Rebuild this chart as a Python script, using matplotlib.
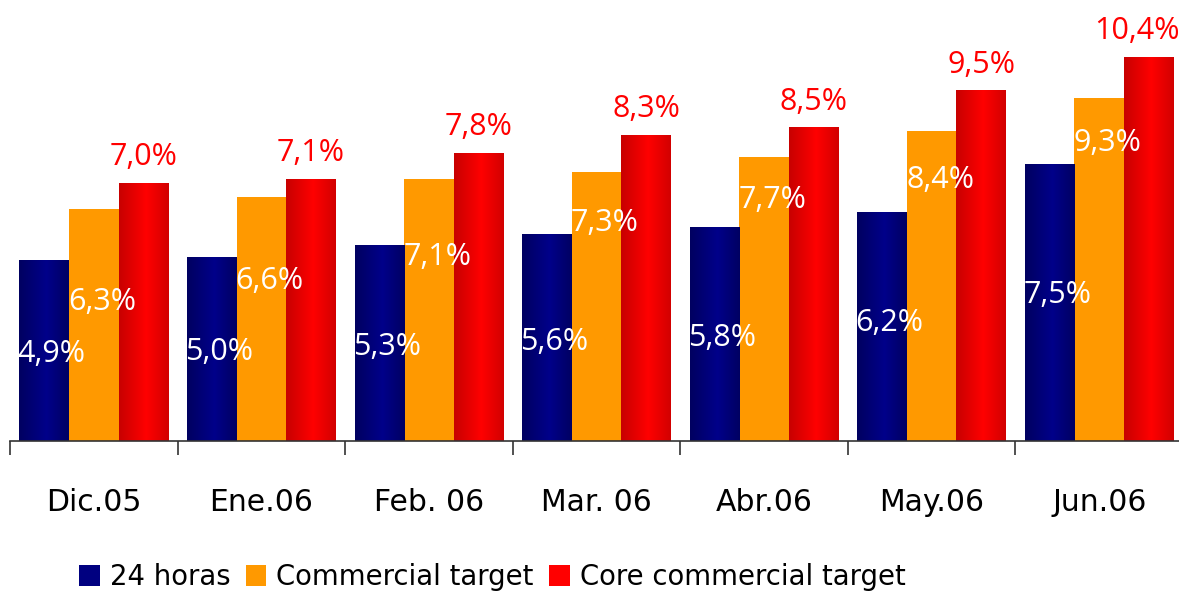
import numpy as np
import matplotlib
matplotlib.use("Agg")
import matplotlib.pyplot as plt
from matplotlib.colors import LinearSegmentedColormap
from matplotlib.patches import Patch

categories = ["Dic.05", "Ene.06", "Feb. 06", "Mar. 06", "Abr.06", "May.06", "Jun.06"]
horas24 = [4.9, 5.0, 5.3, 5.6, 5.8, 6.2, 7.5]
commercial = [6.3, 6.6, 7.1, 7.3, 7.7, 8.4, 9.3]
core = [7.0, 7.1, 7.8, 8.3, 8.5, 9.5, 10.4]
series_names = ["24 horas", "Commercial target", "Core commercial target"]

# label anchor heights (in data units)
navy_label_y = [2.36, 2.41, 2.55, 2.68, 2.79, 3.20, 3.96]
orange_label_y = [3.77, 4.34, 4.99, 5.91, 6.53, 7.07, 8.08]

W, H = 1179, 593
fig = plt.figure(figsize=(W / 100, H / 100), dpi=100)
ax_left, ax_right = 10, 1183
ax_bottom_px = 441
ax = fig.add_axes([ax_left / W, (H - ax_bottom_px) / H, (ax_right - ax_left) / W, ax_bottom_px / H])
ax.set_xlim(-0.5, len(categories) - 0.5)
ax.set_ylim(0, ax_bottom_px / 36.9)

x = np.arange(len(categories))
bw = 0.296
navy_c = "#000080"
orange_c = "#FF9900"
red_c = "#EE0000"

b1 = ax.bar(x - bw, horas24, bw, color=navy_c, linewidth=0, zorder=2)
b2 = ax.bar(x, commercial, bw, color=orange_c, linewidth=0, zorder=2)
b3 = ax.bar(x + bw, core, bw, color=red_c, linewidth=0, zorder=2)

navy_cmap = LinearSegmentedColormap.from_list("navy", [(0, "#000060"), (0.55, "#00008A"), (1, "#000062")])
red_cmap = LinearSegmentedColormap.from_list("red", [(0, "#C80000"), (0.55, "#FF0000"), (1, "#D20000")])
grad = np.linspace(0, 1, 256).reshape(1, -1)
for bars, cmap in ((b1, navy_cmap), (b3, red_cmap)):
    for p in bars:
        x0, w, h = p.get_x(), p.get_width(), p.get_height()
        im = ax.imshow(grad, cmap=cmap, aspect="auto", extent=(x0, x0 + w, 0, h),
                       interpolation="bilinear", zorder=2.5)
        im.set_clip_path(p)

lab_font = dict(family="Open Sans", size=22)
for p, v, yl in zip(b1, horas24, navy_label_y):
    ax.text(p.get_x() - 0.01, yl, f"{v:.1f}%".replace(".", ","), color="white", ha="left", va="center",
            zorder=4, **lab_font)
for p, v, yl in zip(b2, commercial, orange_label_y):
    ax.text(p.get_x() - 0.005, yl, f"{v:.1f}%".replace(".", ","), color="white", ha="left", va="center",
            zorder=4, **lab_font)
for i, (p, v) in enumerate(zip(b3, core)):
    xc = p.get_x() + p.get_width() / 2
    if i == len(core) - 1:
        xc -= 0.07
    ax.text(xc, v + 0.7, f"{v:.1f}%".replace(".", ","), color="#FF0000", ha="center", va="center",
            zorder=4, **lab_font)

for s in ["top", "left", "right"]:
    ax.spines[s].set_visible(False)
ax.spines["bottom"].set_color("#333333")
ax.spines["bottom"].set_linewidth(1.2)
ax.set_yticks([])
ax.set_xticks(x)
ax.set_xticklabels(categories, fontsize=21.5, family="DejaVu Sans")
ax.set_xticks(np.arange(len(categories) + 1) - 0.5, minor=True)
ax.tick_params(axis="x", which="major", length=0, pad=34)
ax.tick_params(axis="x", which="minor", length=10, width=1.2, color="#333333", direction="out")

handles = [Patch(facecolor=navy_c, edgecolor="none"),
           Patch(facecolor=orange_c, edgecolor="none"),
           Patch(facecolor="#FF0000", edgecolor="none")]
fig.legend(handles, series_names, loc="center left", bbox_to_anchor=(79 / W, 16 / H), ncol=3,
           frameon=False, fontsize=19.8, handlelength=0.76, handleheight=0.76,
           handletextpad=0.36, columnspacing=0.55, borderpad=0, borderaxespad=0)

fig.savefig("out.png", dpi=100)
